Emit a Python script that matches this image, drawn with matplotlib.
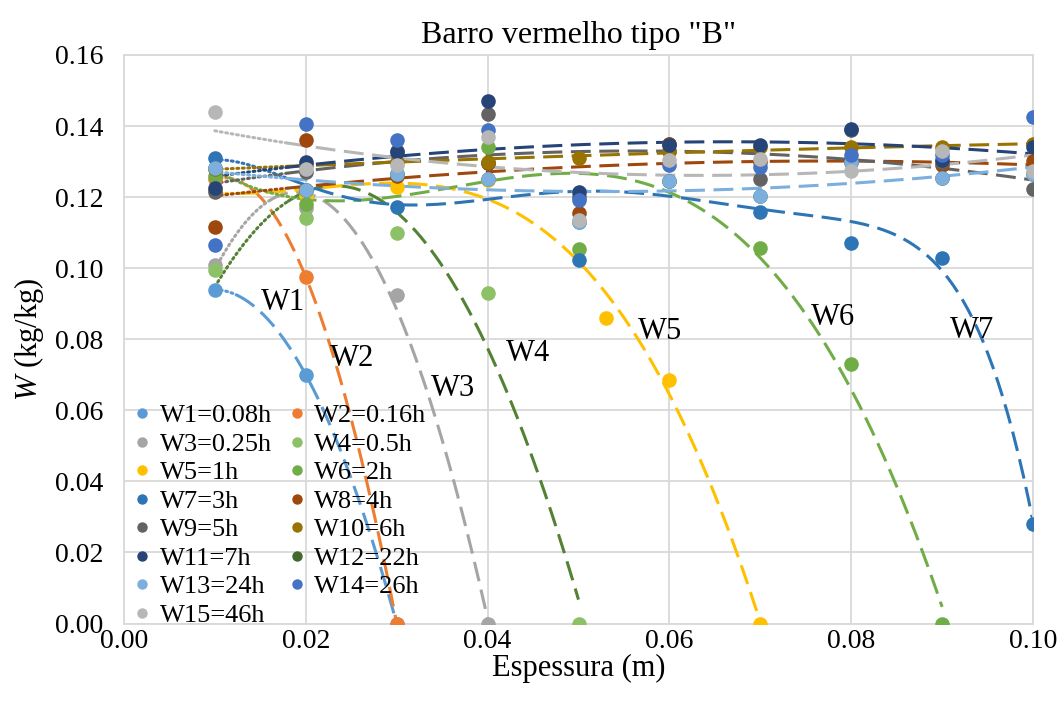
import numpy as np
import matplotlib
matplotlib.use("Agg")
import matplotlib.pyplot as plt
from matplotlib.lines import Line2D

plt.rcParams['font.family'] = ['Liberation Serif', 'DejaVu Serif']
plt.rcParams['mathtext.fontset'] = 'custom'
plt.rcParams['mathtext.rm'] = 'Liberation Serif'
plt.rcParams['mathtext.it'] = 'Liberation Serif:italic'

# ---------------- data ----------------
names = ["W1=0.08h", "W2=0.16h", "W3=0.25h", "W4=0.5h", "W5=1h", "W6=2h", "W7=3h",
         "W8=4h", "W9=5h", "W10=6h", "W11=7h", "W12=22h", "W13=24h", "W14=26h", "W15=46h"]

x_w1 = [0.01, 0.02, 0.03]
y_w1 = [0.094, 0.070, 0.0]
x_w2 = [0.01, 0.02, 0.03]
y_w2 = [0.125, 0.0975, 0.0]
x_w3 = [0.01, 0.02, 0.03, 0.04]
y_w3 = [0.101, 0.117, 0.0925, 0.0]
x_w4 = [0.01, 0.02, 0.03, 0.04, 0.05]
y_w4 = [0.0995, 0.114, 0.1098, 0.0929, 0.0]
x_w5 = [0.01, 0.02, 0.03, 0.04, 0.053, 0.06, 0.07]
y_w5 = [0.122, 0.1205, 0.1228, 0.1249, 0.086, 0.0685, 0.0]
x_w6 = [0.01, 0.02, 0.03, 0.04, 0.05, 0.06, 0.07, 0.08, 0.09]
y_w6 = [0.126, 0.118, 0.1264, 0.1341, 0.1055, 0.1244, 0.1057, 0.073, 0.0]
x_w7 = [0.01, 0.02, 0.03, 0.04, 0.05, 0.06, 0.07, 0.08, 0.09, 0.10]
y_w7 = [0.1309, 0.122, 0.1172, 0.1296, 0.1022, 0.135, 0.1158, 0.1071, 0.103, 0.028]

x_all = [0.01, 0.02, 0.03, 0.04, 0.05, 0.06, 0.07, 0.08, 0.09, 0.10]
y_w8 = [0.1115, 0.136, 0.126, 0.1296, 0.1156, 0.135, 0.130, 0.130, 0.129, 0.1302]
y_w9 = [0.1215, 0.127, 0.133, 0.1435, 0.120, 0.133, 0.1252, 0.139, 0.130, 0.1224]
y_w10 = [0.128, 0.129, 0.130, 0.130, 0.131, 0.133, 0.134, 0.134, 0.134, 0.135]
y_w11 = [0.1225, 0.130, 0.1327, 0.147, 0.1214, 0.1346, 0.1346, 0.1393, 0.1304, 0.1341]
y_w12 = [0.1282, 0.122, 0.1264, 0.125, 0.113, 0.1244, 0.1203, 0.130, 0.1255, 0.1265]
y_w13 = [0.1282, 0.122, 0.1264, 0.125, 0.113, 0.1244, 0.1203, 0.130, 0.1255, 0.1265]
y_w14 = [0.1065, 0.1405, 0.136, 0.1388, 0.1191, 0.129, 0.1285, 0.1318, 0.1318, 0.1426]
y_w15 = [0.144, 0.128, 0.129, 0.1369, 0.1137, 0.1304, 0.1306, 0.1274, 0.133, 0.1274]

series_x = [x_w1, x_w2, x_w3, x_w4, x_w5, x_w6, x_w7,
            x_all, x_all, x_all, x_all, x_all, x_all, x_all, x_all]
series_y = [y_w1, y_w2, y_w3, y_w4, y_w5, y_w6, y_w7,
            y_w8, y_w9, y_w10, y_w11, y_w12, y_w13, y_w14, y_w15]

curve_labels = ["W1", "W2", "W3", "W4", "W5", "W6", "W7"]
label_x = [0.0175, 0.0251, 0.0362, 0.0444, 0.0590, 0.0780, 0.0933]
label_y = [0.0904, 0.0747, 0.0662, 0.0761, 0.0823, 0.0860, 0.0826]

# ---------------- style ----------------
marker_colors = ["#5B9BD5", "#ED7D31", "#A5A5A5", "#8CC168", "#FFC000", "#70AD47", "#2E75B6",
                 "#9E480E", "#636363", "#997300", "#264478", "#43682B", "#7CAFDD", "#4472C4", "#B7B7B7"]
trend_colors = ["#5B9BD5", "#ED7D31", "#A5A5A5", "#548235", "#FFC000", "#70AD47", "#2E75B6",
                "#9E480E", "#636363", "#997300", "#264478", None, "#7CAFDD", None, "#B7B7B7"]
trend_deg = [2, 2, 2, 2, 3, 3, 6, 2, 2, 2, 2, 2, 2, 2, 2]
dot_end = [0.0125, 0.014, 0.016, 0.018, 0.0125, 0.019, 0.018,
           0.018, 0.018, 0.018, 0.018, 0.018, 0.018, 0.018, 0.018]

W, H = 1059, 702
fig = plt.figure(figsize=(W / 100, H / 100), dpi=100)
ax = fig.add_axes([124 / W, 1 - 623.5 / H, (1033 - 124) / W, (623.5 - 55) / H])

lw = 2.2
dash = (0, (6.5, 2.8))
dots = (0, (0.6, 1.2))

# trendlines (least-squares polynomial, like the spreadsheet trendlines)
for i in range(len(names)):
    c = trend_colors[i]
    if c is None:
        continue
    xs = np.array(series_x[i]); ys = np.array(series_y[i])
    p = np.polyfit(xs, ys, trend_deg[i])
    x0, x1 = xs.min(), xs.max()
    xa = np.linspace(x0, dot_end[i], 40)
    xb = np.linspace(dot_end[i], x1, 300)
    ax.plot(xa, np.polyval(p, xa), color=c, lw=lw, linestyle=dots,
            dash_capstyle='round', zorder=2)
    ax.plot(xb, np.polyval(p, xb), color=c, lw=lw, linestyle=dash,
            dash_capstyle='butt', zorder=2)

# markers
for i in range(len(names)):
    ax.plot(series_x[i], series_y[i], 'o', color=marker_colors[i], ms=10.5,
            markeredgewidth=0, zorder=3 + i * 0.01)

for t, lx, ly in zip(curve_labels, label_x, label_y):
    ax.text(lx, ly, t, fontsize=22, ha='center', va='center', zorder=5)

ax.set_xlim(0, 0.10)
ax.set_ylim(0, 0.16)
ax.set_xticks(np.arange(0, 0.1001, 0.02))
ax.set_yticks(np.arange(0, 0.1601, 0.02))
ax.xaxis.set_major_formatter(matplotlib.ticker.FormatStrFormatter('%.2f'))
ax.yaxis.set_major_formatter(matplotlib.ticker.FormatStrFormatter('%.2f'))
ax.tick_params(labelsize=20, length=0)
ax.tick_params(axis='y', pad=15)
ax.tick_params(axis='x', pad=4)
ax.grid(True, color="#D9D9D9", lw=1.3)
ax.set_axisbelow(True)
for s in ax.spines.values():
    s.set_color("#D9D9D9")
    s.set_linewidth(1.3)

ax.set_title('Barro vermelho tipo "B"', fontsize=23, pad=9)
ax.set_xlabel("Espessura (m)", fontsize=22, labelpad=0)
ax.set_ylabel(r"$W$ (kg/kg)", fontsize=22, labelpad=6)

order = list(range(0, 15, 2)) + list(range(1, 15, 2))
handles = [Line2D([], [], marker='o', ls='none', color=marker_colors[i], ms=7.5,
                  markeredgewidth=0) for i in order]
labels = [names[i] for i in order]
leg = ax.legend(handles, labels, ncol=2, loc='lower left', bbox_to_anchor=(0.0, -0.015),
                frameon=False, fontsize=19, handletextpad=0.15, columnspacing=0.45,
                labelspacing=0.19, borderaxespad=0.0, handlelength=1.0, borderpad=0.2)
leg.set_zorder(6)

fig.savefig("out.png", dpi=100)
